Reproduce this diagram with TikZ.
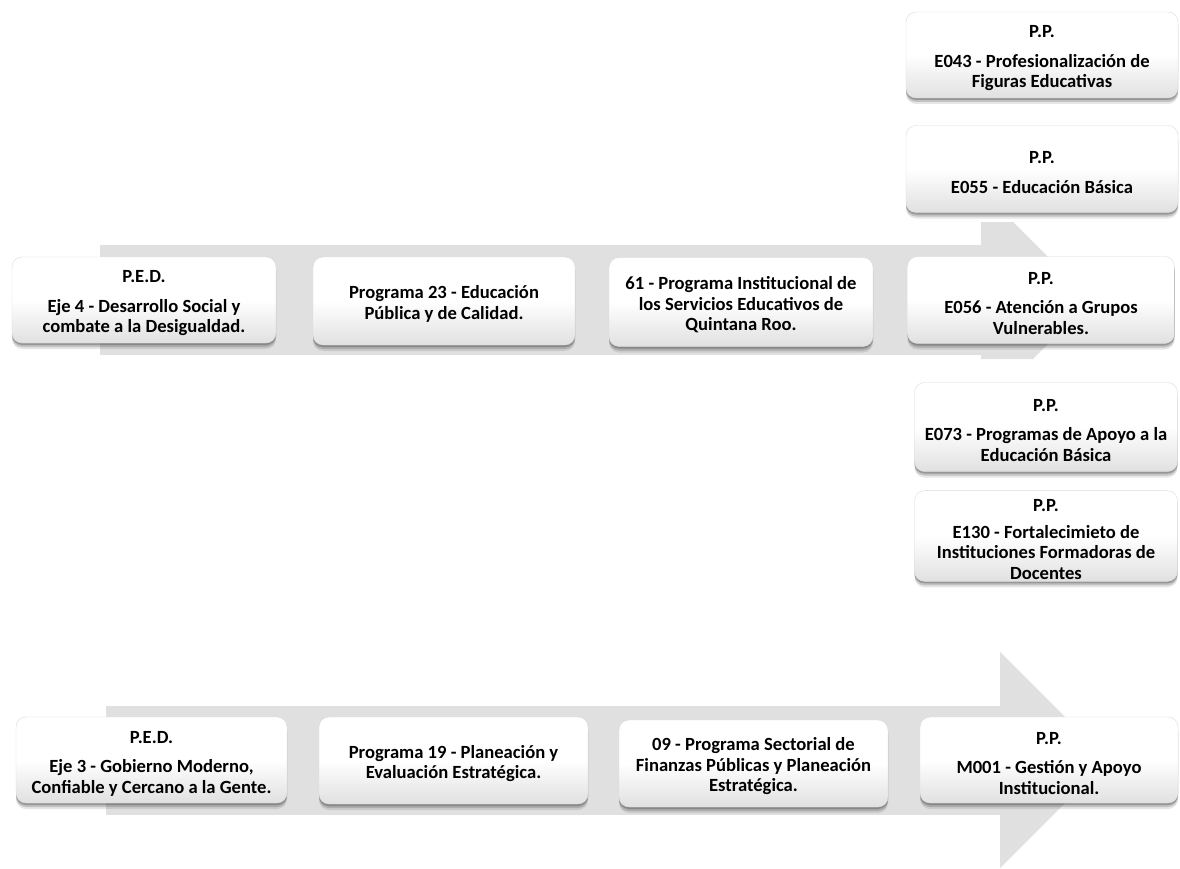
\documentclass[tikz,border=0pt]{standalone}
\usepackage{fontspec}
\setmainfont{Carlito}
\usetikzlibrary{shadows}
\definecolor{arrowgray}{RGB}{224,224,224}
\newcommand{\tstrut}{\rule{0pt}{19pt}}
\tikzset{
  box/.style={
    rounded corners=10pt,
    draw=black!14, line width=0.4pt,
    top color=white, bottom color=black!12, middle color=white,
    drop shadow={shadow xshift=0pt, shadow yshift=-2pt, opacity=0.3, fill=black!80},
    drop shadow={shadow xshift=0pt, shadow yshift=-4pt, opacity=0.2, fill=black!80},
    drop shadow={shadow xshift=0pt, shadow yshift=-6pt, opacity=0.12, fill=black!80},
    align=center, inner sep=2pt,
    font=\fontsize{18.6}{20.5}\selectfont\bfseries
  },
  bigarrow/.style={fill=arrowgray, draw=none}
}
\newcommand{\boxnode}[6]{%
  \node[box, minimum width=#4pt, minimum height=#5pt] (#1) at (#2,#3) {\tstrut #6};}
\begin{document}
\begin{tikzpicture}[x=1pt,y=-1pt]
\useasboundingbox (0,0) rectangle (1180,869);
\fill[white] (0,0) rectangle (1180,869);
% big arrows
\fill[bigarrow] (100,245) rectangle (982,355);
\fill[bigarrow] (981,222) -- (1013,222) -- (1091,300) -- (1033,359) -- (981,359) -- cycle;
\fill[bigarrow] (106,706) rectangle (1001,815);
\fill[bigarrow] (1000,652) -- (1108,760) -- (1000,868) -- cycle;
% top row
\boxnode{t1}{144}{300}{264}{86}{P.E.D.\\[9pt]Eje 4 - Desarrollo Social y\\combate a la Desigualdad.}
\boxnode{t2}{444}{301}{262}{88}{Programa 23 - Educación\\Pública y de Calidad.}
\boxnode{t3}{741}{302}{264}{89}{61 - Programa Institucional de\\los Servicios Educativos de\\Quintana Roo.}
\boxnode{t4}{1041}{300}{267}{87}{P.P.\\[9pt]E056 - Atención a Grupos\\Vulnerables.}
% right column
\boxnode{r1}{1042}{55}{272}{86}{P.P.\\[9pt]E043 - Profesionalización de\\Figuras Educativas}
\boxnode{r2}{1042}{169}{272}{87}{P.P.\\[9pt]E055 - Educación Básica}
\boxnode{r3}{1046}{427}{263}{89}{P.P.\\[9pt]E073 - Programas de Apoyo a la\\Educación Básica}
\boxnode{r4}{1046}{536}{263}{83}{P.P.\\[6pt]E130 - Fortalecimieto de\\Instituciones Formadoras de\\Docentes}
% bottom row
\boxnode{b1}{151.5}{760}{271}{86}{P.E.D.\\[9pt]Eje 3 - Gobierno Moderno,\\Confiable y Cercano a la Gente.}
\boxnode{b2}{453.5}{760.5}{269}{87}{Programa 19 - Planeación y\\Evaluación Estratégica.}
\boxnode{b3}{753.5}{763.5}{269}{87}{09 - Programa Sectorial de\\Finanzas Públicas y Planeación\\Estratégica.}
\boxnode{b4}{1049}{760}{258}{86}{P.P.\\[9pt]M001 - Gestión y Apoyo\\Institucional.}
\end{tikzpicture}
\end{document}
